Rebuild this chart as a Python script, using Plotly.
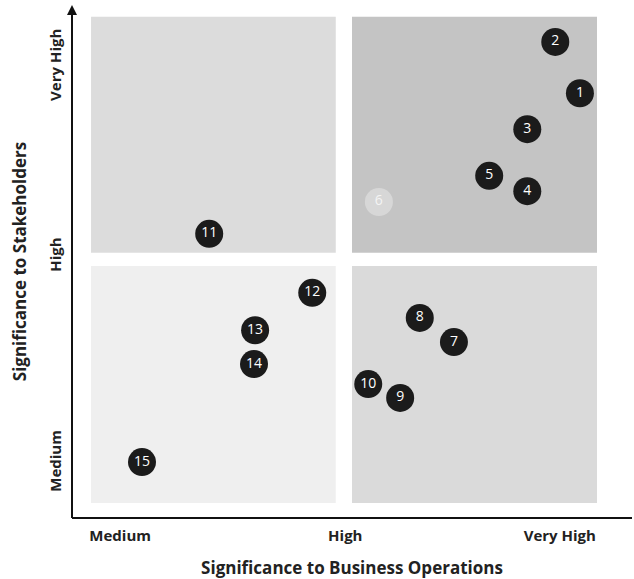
import plotly.graph_objects as go

# ---- data (scores on 0-10 scales) ----
topic_ids = ["1", "2", "3", "4", "5", "6", "7", "8", "9", "10", "11", "12", "13", "14", "15"]
business_score = [9.07, 8.63, 8.13, 8.13, 7.45, 5.48, 6.82, 6.21, 5.86, 5.29, 2.45, 4.29, 3.27, 3.25, 1.25]
stakeholder_score = [8.28, 9.28, 7.58, 6.37, 6.67, 6.16, 3.43, 3.90, 2.34, 2.61, 5.54, 4.39, 3.66, 3.00, 1.09]
highlighted = [True, True, True, True, True, False, True, True, True, True, True, True, True, True, True]

x_tick_vals = [0.86, 4.88, 8.71]
x_tick_text = ["Medium", "High", "Very High"]
y_tick_vals = [1.07, 5.09, 8.79]
y_tick_text = ["Medium", "High", "Very High"]

x_title = "Significance to Business Operations"
y_title = "Significance to Stakeholders"

# quadrant backgrounds
quad_x0 = [0.34, 5.0, 0.34, 5.0]
quad_x1 = [4.71, 9.375, 4.71, 9.375]
quad_y0 = [5.17, 5.17, 0.29, 0.29]
quad_y1 = [9.77, 9.77, 4.91, 4.91]
quad_colors = ["#dcdcdc", "#c4c4c4", "#efefef", "#dadada"]

FONT = "Open Sans"

marker_colors = ["#1b1b1b" if h else "#d7d7d7" for h in highlighted]
text_colors = ["#ffffff" if h else "#f4f4f4" for h in highlighted]

fig = go.Figure()

fig.add_trace(go.Scatter(
    x=business_score,
    y=stakeholder_score,
    mode="markers+text",
    text=topic_ids,
    textposition="middle center",
    textfont=dict(family=FONT, size=14, color=text_colors),
    marker=dict(size=28, color=marker_colors, line=dict(width=0)),
    hoverinfo="text",
    showlegend=False,
    cliponaxis=False,
))

shapes = []
for x0, x1, y0, y1, c in zip(quad_x0, quad_x1, quad_y0, quad_y1, quad_colors):
    shapes.append(dict(type="rect", xref="x", yref="y", x0=x0, x1=x1, y0=y0, y1=y1,
                       fillcolor=c, line=dict(width=0), layer="below"))
# axes lines
shapes.append(dict(type="line", xref="paper", yref="paper", x0=0, x1=1, y0=0, y1=0,
                   line=dict(color="#111111", width=2)))
shapes.append(dict(type="line", xref="paper", yref="paper", x0=0, x1=0, y0=0, y1=0.985,
                   line=dict(color="#111111", width=2)))

fig.update_layout(
    width=634, height=579,
    margin=dict(l=72, r=2, t=5, b=61),
    paper_bgcolor="white",
    plot_bgcolor="white",
    shapes=shapes,
    font=dict(family=FONT, color="#222222"),
    annotations=[
        dict(xref="paper", yref="paper", x=0, y=1.0, ax=0, ay=14,
             showarrow=True, arrowhead=2, arrowsize=1, arrowwidth=2, arrowcolor="#111111", text=""),
    ],
    xaxis=dict(
        range=[0, 10], showgrid=False, zeroline=False, showline=False,
        tickvals=x_tick_vals, ticktext=x_tick_text, ticks="", ticklabelstandoff=7,
        tickfont=dict(family=FONT, size=15, color="#222222", weight="bold"),
        title=dict(text=x_title, font=dict(family=FONT, size=17, color="#222222", weight="bold"),
                   standoff=18),
        fixedrange=True,
    ),
    yaxis=dict(
        range=[0, 10], showgrid=False, zeroline=False, showline=False,
        tickvals=y_tick_vals, ticktext=y_tick_text, ticks="", tickangle=-90, ticklabelstandoff=7,
        tickfont=dict(family=FONT, size=15, color="#222222", weight="bold"),
        title=dict(text=y_title, font=dict(family=FONT, size=17, color="#222222", weight="bold"),
                   standoff=14),
        fixedrange=True,
    ),
)

fig.write_html("out.html")
